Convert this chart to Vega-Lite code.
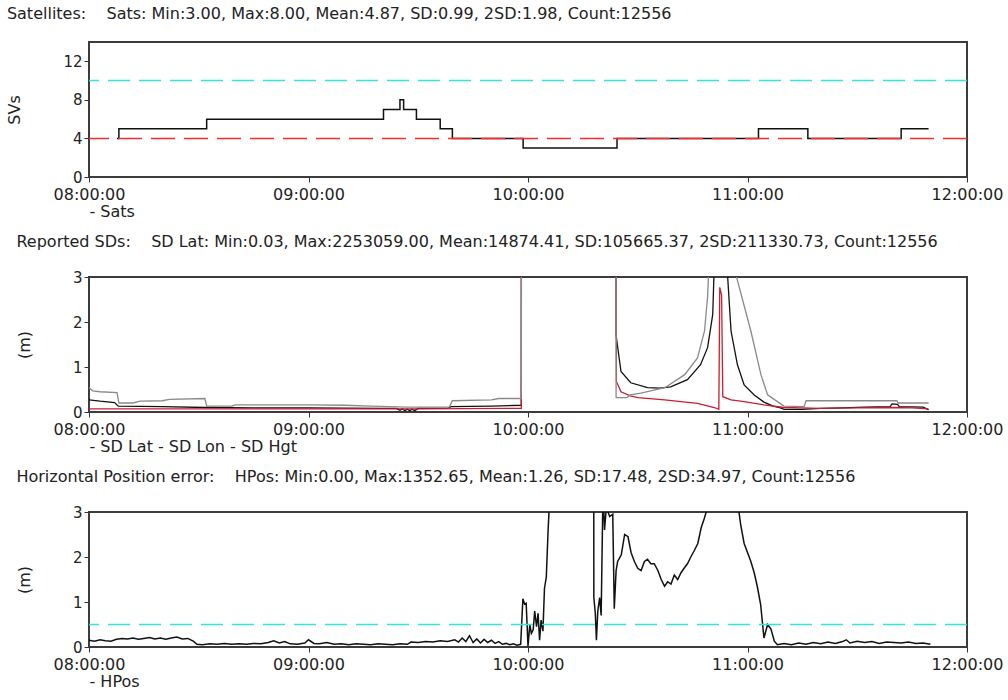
{
"$schema": "https://vega.github.io/schema/vega-lite/v6.json",
"spacing": 13,
"config": {
  "font": "DejaVu Sans",
  "view": {"stroke": "#3c3c3c", "strokeWidth": 2},
  "title": {"anchor": "start", "frame": "bounds", "fontSize": 16, "fontWeight": "normal", "color": "#222222", "offset": 20},
  "axis": {"grid": false, "domain": false, "labelFontSize": 16, "labelColor": "#222222", "titleFontSize": 16, "titleFontWeight": "normal", "titleColor": "#222222", "tickColor": "#333333"},
  "axisX": {"labelFlush": false, "labelOverlap": false, "labelPadding": 4, "titleAnchor": "start", "titleAlign": "left", "titlePadding": 1},
  "axisY": {"titlePadding": 40}
},
"vconcat": [
  {
    "width": 878, "height": 135,
    "title": "Satellites:\u00a0\u00a0\u00a0 Sats: Min:3.00, Max:8.00, Mean:4.87, SD:0.99, 2SD:1.98, Count:12556",
    "data": {"values": [
      {"t":"2000-01-01T08:07:40","n":4},{"t":"2000-01-01T08:08:10","n":5},{"t":"2000-01-01T08:32:10","n":6},{"t":"2000-01-01T09:20:30","n":7},{"t":"2000-01-01T09:25:00","n":8},{"t":"2000-01-01T09:26:00","n":7},{"t":"2000-01-01T09:29:30","n":6},{"t":"2000-01-01T09:36:00","n":5},{"t":"2000-01-01T09:39:20","n":4},{"t":"2000-01-01T09:58:40","n":3},{"t":"2000-01-01T10:24:20","n":4},{"t":"2000-01-01T11:03:00","n":5},{"t":"2000-01-01T11:16:30","n":4},{"t":"2000-01-01T11:42:00","n":5},{"t":"2000-01-01T11:49:30","n":5}
    ]},
    "layer": [
      {
        "mark": {"type": "line", "interpolate": "step-after", "strokeWidth": 1.5, "clip": true, "color": "#111111"},
        "encoding": {
          "x": {"field": "t", "type": "temporal", "scale": {"domain": [{"year": 2000, "month": 1, "date": 1, "hours": 8}, {"year": 2000, "month": 1, "date": 1, "hours": 12}]}, "axis": {"title": "- Sats", "tickCount": 4, "labelExpr": "(hours(datum.value) < 10 ? '0' : '') + hours(datum.value) + ':00:00'"}},
          "y": {"field": "n", "type": "quantitative", "scale": {"domain": [0, 14], "nice": false}, "axis": {"title": "SVs", "values": [0, 2, 4, 6, 8, 10, 12, 14], "labelFontSize": 15}}
        }
      },
      {
        "transform": [{"aggregate": [{"op": "count", "as": "c"}]}],
        "mark": {"type": "rule", "color": "#30e6d6", "strokeWidth": 1.5, "strokeDash": [22, 9]},
        "encoding": {"y": {"datum": 10}}
      },
      {
        "transform": [{"aggregate": [{"op": "count", "as": "c"}]}],
        "mark": {"type": "rule", "color": "#ff2a2a", "strokeWidth": 1.5, "strokeDash": [24, 9]},
        "encoding": {"y": {"datum": 4}}
      }
    ]
  },
  {
    "width": 878, "height": 135,
    "title": "Reported SDs:\u00a0\u00a0\u00a0 SD Lat: Min:0.03, Max:2253059.00, Mean:14874.41, SD:105665.37, 2SD:211330.73, Count:12556",
    "data": {"values": [
      {"s":"SD Lat","t":"2000-01-01T08:00:00","v":0.27},{"s":"SD Lat","t":"2000-01-01T08:03:00","v":0.24},{"s":"SD Lat","t":"2000-01-01T08:07:00","v":0.21},{"s":"SD Lat","t":"2000-01-01T08:08:00","v":0.13},{"s":"SD Lat","t":"2000-01-01T08:20:00","v":0.12},{"s":"SD Lat","t":"2000-01-01T08:32:00","v":0.1},{"s":"SD Lat","t":"2000-01-01T08:45:00","v":0.09},{"s":"SD Lat","t":"2000-01-01T09:00:00","v":0.09},{"s":"SD Lat","t":"2000-01-01T09:20:00","v":0.08},{"s":"SD Lat","t":"2000-01-01T09:24:00","v":0.08},{"s":"SD Lat","t":"2000-01-01T09:25:00","v":0.04},{"s":"SD Lat","t":"2000-01-01T09:25:40","v":0.07},{"s":"SD Lat","t":"2000-01-01T09:26:20","v":0.03},{"s":"SD Lat","t":"2000-01-01T09:27:00","v":0.06},{"s":"SD Lat","t":"2000-01-01T09:27:40","v":0.03},{"s":"SD Lat","t":"2000-01-01T09:28:20","v":0.06},{"s":"SD Lat","t":"2000-01-01T09:29:00","v":0.03},{"s":"SD Lat","t":"2000-01-01T09:30:00","v":0.08},{"s":"SD Lat","t":"2000-01-01T09:38:00","v":0.08},{"s":"SD Lat","t":"2000-01-01T09:39:00","v":0.12},{"s":"SD Lat","t":"2000-01-01T09:50:00","v":0.13},{"s":"SD Lat","t":"2000-01-01T09:58:10","v":0.15},{"s":"SD Lat","t":"2000-01-01T09:58:20","v":20},{"s":"SD Lat","t":"2000-01-01T10:24:00","v":20},{"s":"SD Lat","t":"2000-01-01T10:24:05","v":1.7},{"s":"SD Lat","t":"2000-01-01T10:25:25","v":0.9},{"s":"SD Lat","t":"2000-01-01T10:28:05","v":0.65},{"s":"SD Lat","t":"2000-01-01T10:32:40","v":0.54},{"s":"SD Lat","t":"2000-01-01T10:36:00","v":0.53},{"s":"SD Lat","t":"2000-01-01T10:39:00","v":0.56},{"s":"SD Lat","t":"2000-01-01T10:43:35","v":0.72},{"s":"SD Lat","t":"2000-01-01T10:47:10","v":1.05},{"s":"SD Lat","t":"2000-01-01T10:49:05","v":1.43},{"s":"SD Lat","t":"2000-01-01T10:50:30","v":2.17},{"s":"SD Lat","t":"2000-01-01T10:51:00","v":3.5},{"s":"SD Lat","t":"2000-01-01T10:52:30","v":20},{"s":"SD Lat","t":"2000-01-01T10:54:30","v":3.1},{"s":"SD Lat","t":"2000-01-01T10:55:30","v":1.8},{"s":"SD Lat","t":"2000-01-01T10:57:15","v":1.05},{"s":"SD Lat","t":"2000-01-01T10:59:05","v":0.6},{"s":"SD Lat","t":"2000-01-01T11:01:50","v":0.38},{"s":"SD Lat","t":"2000-01-01T11:04:30","v":0.22},{"s":"SD Lat","t":"2000-01-01T11:07:00","v":0.13},{"s":"SD Lat","t":"2000-01-01T11:09:00","v":0.09},{"s":"SD Lat","t":"2000-01-01T11:10:00","v":0.06},{"s":"SD Lat","t":"2000-01-01T11:15:00","v":0.06},{"s":"SD Lat","t":"2000-01-01T11:20:00","v":0.08},{"s":"SD Lat","t":"2000-01-01T11:26:00","v":0.09},{"s":"SD Lat","t":"2000-01-01T11:32:00","v":0.11},{"s":"SD Lat","t":"2000-01-01T11:39:00","v":0.12},{"s":"SD Lat","t":"2000-01-01T11:39:30","v":0.18},{"s":"SD Lat","t":"2000-01-01T11:41:00","v":0.17},{"s":"SD Lat","t":"2000-01-01T11:41:30","v":0.12},{"s":"SD Lat","t":"2000-01-01T11:48:00","v":0.11},{"s":"SD Lat","t":"2000-01-01T11:49:00","v":0.07},{"s":"SD Lat","t":"2000-01-01T11:49:30","v":0.05},
      {"s":"SD Lon","t":"2000-01-01T08:00:00","v":0.07},{"s":"SD Lon","t":"2000-01-01T08:30:00","v":0.07},{"s":"SD Lon","t":"2000-01-01T09:00:00","v":0.07},{"s":"SD Lon","t":"2000-01-01T09:30:00","v":0.07},{"s":"SD Lon","t":"2000-01-01T09:58:10","v":0.08},{"s":"SD Lon","t":"2000-01-01T09:58:20","v":20},{"s":"SD Lon","t":"2000-01-01T10:24:00","v":20},{"s":"SD Lon","t":"2000-01-01T10:24:10","v":0.68},{"s":"SD Lon","t":"2000-01-01T10:25:25","v":0.45},{"s":"SD Lon","t":"2000-01-01T10:28:00","v":0.36},{"s":"SD Lon","t":"2000-01-01T10:30:00","v":0.32},{"s":"SD Lon","t":"2000-01-01T10:37:20","v":0.27},{"s":"SD Lon","t":"2000-01-01T10:46:20","v":0.19},{"s":"SD Lon","t":"2000-01-01T10:50:55","v":0.1},{"s":"SD Lon","t":"2000-01-01T10:52:10","v":0.06},{"s":"SD Lon","t":"2000-01-01T10:52:25","v":2.77},{"s":"SD Lon","t":"2000-01-01T10:52:55","v":2.6},{"s":"SD Lon","t":"2000-01-01T10:53:15","v":0.34},{"s":"SD Lon","t":"2000-01-01T10:55:30","v":0.27},{"s":"SD Lon","t":"2000-01-01T10:59:05","v":0.23},{"s":"SD Lon","t":"2000-01-01T11:04:30","v":0.16},{"s":"SD Lon","t":"2000-01-01T11:10:00","v":0.1},{"s":"SD Lon","t":"2000-01-01T11:20:00","v":0.08},{"s":"SD Lon","t":"2000-01-01T11:30:00","v":0.09},{"s":"SD Lon","t":"2000-01-01T11:40:00","v":0.1},{"s":"SD Lon","t":"2000-01-01T11:45:00","v":0.09},{"s":"SD Lon","t":"2000-01-01T11:49:30","v":0.07},
      {"s":"SD Hgt","t":"2000-01-01T08:00:00","v":0.54},{"s":"SD Hgt","t":"2000-01-01T08:01:00","v":0.47},{"s":"SD Hgt","t":"2000-01-01T08:03:00","v":0.45},{"s":"SD Hgt","t":"2000-01-01T08:07:40","v":0.43},{"s":"SD Hgt","t":"2000-01-01T08:08:10","v":0.2},{"s":"SD Hgt","t":"2000-01-01T08:12:00","v":0.2},{"s":"SD Hgt","t":"2000-01-01T08:14:00","v":0.24},{"s":"SD Hgt","t":"2000-01-01T08:20:00","v":0.25},{"s":"SD Hgt","t":"2000-01-01T08:22:00","v":0.28},{"s":"SD Hgt","t":"2000-01-01T08:31:40","v":0.3},{"s":"SD Hgt","t":"2000-01-01T08:32:10","v":0.13},{"s":"SD Hgt","t":"2000-01-01T08:39:00","v":0.13},{"s":"SD Hgt","t":"2000-01-01T08:40:00","v":0.16},{"s":"SD Hgt","t":"2000-01-01T09:00:00","v":0.16},{"s":"SD Hgt","t":"2000-01-01T09:10:00","v":0.15},{"s":"SD Hgt","t":"2000-01-01T09:17:00","v":0.13},{"s":"SD Hgt","t":"2000-01-01T09:27:00","v":0.11},{"s":"SD Hgt","t":"2000-01-01T09:38:30","v":0.11},{"s":"SD Hgt","t":"2000-01-01T09:39:20","v":0.25},{"s":"SD Hgt","t":"2000-01-01T09:50:00","v":0.27},{"s":"SD Hgt","t":"2000-01-01T09:52:00","v":0.3},{"s":"SD Hgt","t":"2000-01-01T09:58:10","v":0.3},{"s":"SD Hgt","t":"2000-01-01T09:58:20","v":20},{"s":"SD Hgt","t":"2000-01-01T10:24:00","v":20},{"s":"SD Hgt","t":"2000-01-01T10:24:05","v":0.32},{"s":"SD Hgt","t":"2000-01-01T10:27:00","v":0.32},{"s":"SD Hgt","t":"2000-01-01T10:28:00","v":0.38},{"s":"SD Hgt","t":"2000-01-01T10:30:50","v":0.42},{"s":"SD Hgt","t":"2000-01-01T10:37:25","v":0.54},{"s":"SD Hgt","t":"2000-01-01T10:42:50","v":0.83},{"s":"SD Hgt","t":"2000-01-01T10:46:20","v":1.2},{"s":"SD Hgt","t":"2000-01-01T10:48:15","v":1.8},{"s":"SD Hgt","t":"2000-01-01T10:49:05","v":2.55},{"s":"SD Hgt","t":"2000-01-01T10:49:35","v":3.5},{"s":"SD Hgt","t":"2000-01-01T10:53:00","v":20},{"s":"SD Hgt","t":"2000-01-01T10:56:50","v":3.05},{"s":"SD Hgt","t":"2000-01-01T11:00:55","v":1.8},{"s":"SD Hgt","t":"2000-01-01T11:03:40","v":0.83},{"s":"SD Hgt","t":"2000-01-01T11:05:30","v":0.38},{"s":"SD Hgt","t":"2000-01-01T11:08:10","v":0.23},{"s":"SD Hgt","t":"2000-01-01T11:10:00","v":0.13},{"s":"SD Hgt","t":"2000-01-01T11:15:30","v":0.12},{"s":"SD Hgt","t":"2000-01-01T11:16:00","v":0.25},{"s":"SD Hgt","t":"2000-01-01T11:40:50","v":0.25},{"s":"SD Hgt","t":"2000-01-01T11:41:10","v":0.2},{"s":"SD Hgt","t":"2000-01-01T11:49:30","v":0.2}
    ]},
    "mark": {"type": "line", "strokeWidth": 1.3, "clip": true},
    "encoding": {
      "x": {"field": "t", "type": "temporal", "scale": {"domain": [{"year": 2000, "month": 1, "date": 1, "hours": 8}, {"year": 2000, "month": 1, "date": 1, "hours": 12}]}, "axis": {"title": "- SD Lat - SD Lon - SD Hgt", "tickCount": 4, "labelExpr": "(hours(datum.value) < 10 ? '0' : '') + hours(datum.value) + ':00:00'"}},
      "y": {"field": "v", "type": "quantitative", "scale": {"domain": [0, 3], "nice": false}, "axis": {"title": "(m)", "values": [0, 1, 2, 3], "labelFontSize": 15}},
      "color": {"field": "s", "type": "nominal", "scale": {"domain": ["SD Lat", "SD Lon", "SD Hgt"], "range": ["#111111", "#c81e32", "#8a8a8a"]}, "legend": null}
    }
  },
  {
    "width": 878, "height": 135,
    "title": "Horizontal Position error:\u00a0\u00a0\u00a0 HPos: Min:0.00, Max:1352.65, Mean:1.26, SD:17.48, 2SD:34.97, Count:12556",
    "data": {"values": [
      {"t":"2000-01-01T08:00:00","v":0.15},{"t":"2000-01-01T08:01:30","v":0.13},{"t":"2000-01-01T08:03:00","v":0.16},{"t":"2000-01-01T08:04:30","v":0.14},{"t":"2000-01-01T08:06:00","v":0.13},{"t":"2000-01-01T08:07:30","v":0.17},{"t":"2000-01-01T08:09:00","v":0.19},{"t":"2000-01-01T08:10:30","v":0.18},{"t":"2000-01-01T08:12:00","v":0.2},{"t":"2000-01-01T08:13:30","v":0.17},{"t":"2000-01-01T08:15:00","v":0.19},{"t":"2000-01-01T08:16:30","v":0.21},{"t":"2000-01-01T08:18:00","v":0.18},{"t":"2000-01-01T08:19:30","v":0.2},{"t":"2000-01-01T08:21:00","v":0.17},{"t":"2000-01-01T08:22:30","v":0.2},{"t":"2000-01-01T08:24:00","v":0.22},{"t":"2000-01-01T08:25:30","v":0.18},{"t":"2000-01-01T08:27:00","v":0.19},{"t":"2000-01-01T08:28:30","v":0.13},{"t":"2000-01-01T08:29:30","v":0.06},{"t":"2000-01-01T08:31:00","v":0.05},{"t":"2000-01-01T08:33:00","v":0.07},{"t":"2000-01-01T08:35:00","v":0.06},{"t":"2000-01-01T08:37:00","v":0.08},{"t":"2000-01-01T08:39:00","v":0.06},{"t":"2000-01-01T08:41:00","v":0.07},{"t":"2000-01-01T08:43:00","v":0.06},{"t":"2000-01-01T08:45:00","v":0.08},{"t":"2000-01-01T08:47:00","v":0.07},{"t":"2000-01-01T08:49:00","v":0.1},{"t":"2000-01-01T08:50:30","v":0.14},{"t":"2000-01-01T08:52:00","v":0.09},{"t":"2000-01-01T08:53:30","v":0.12},{"t":"2000-01-01T08:55:00","v":0.07},{"t":"2000-01-01T08:57:00","v":0.06},{"t":"2000-01-01T08:59:00","v":0.09},{"t":"2000-01-01T09:00:00","v":0.16},{"t":"2000-01-01T09:01:30","v":0.08},{"t":"2000-01-01T09:03:00","v":0.07},{"t":"2000-01-01T09:05:00","v":0.1},{"t":"2000-01-01T09:07:00","v":0.06},{"t":"2000-01-01T09:09:00","v":0.07},{"t":"2000-01-01T09:11:00","v":0.05},{"t":"2000-01-01T09:13:00","v":0.07},{"t":"2000-01-01T09:15:00","v":0.06},{"t":"2000-01-01T09:17:00","v":0.05},{"t":"2000-01-01T09:19:00","v":0.07},{"t":"2000-01-01T09:21:00","v":0.06},{"t":"2000-01-01T09:23:00","v":0.05},{"t":"2000-01-01T09:25:00","v":0.07},{"t":"2000-01-01T09:27:00","v":0.06},{"t":"2000-01-01T09:28:00","v":0.11},{"t":"2000-01-01T09:30:00","v":0.1},{"t":"2000-01-01T09:32:00","v":0.12},{"t":"2000-01-01T09:34:00","v":0.11},{"t":"2000-01-01T09:36:00","v":0.14},{"t":"2000-01-01T09:38:00","v":0.12},{"t":"2000-01-01T09:40:00","v":0.16},{"t":"2000-01-01T09:41:00","v":0.11},{"t":"2000-01-01T09:42:00","v":0.2},{"t":"2000-01-01T09:43:00","v":0.12},{"t":"2000-01-01T09:44:00","v":0.25},{"t":"2000-01-01T09:45:00","v":0.1},{"t":"2000-01-01T09:46:00","v":0.18},{"t":"2000-01-01T09:47:00","v":0.09},{"t":"2000-01-01T09:48:00","v":0.17},{"t":"2000-01-01T09:49:00","v":0.1},{"t":"2000-01-01T09:50:00","v":0.15},{"t":"2000-01-01T09:51:00","v":0.08},{"t":"2000-01-01T09:52:00","v":0.12},{"t":"2000-01-01T09:53:00","v":0.06},{"t":"2000-01-01T09:54:00","v":0.08},{"t":"2000-01-01T09:55:00","v":0.05},{"t":"2000-01-01T09:56:00","v":0.07},{"t":"2000-01-01T09:57:00","v":0.04},{"t":"2000-01-01T09:58:00","v":0.06},{"t":"2000-01-01T09:58:36","v":1.07},{"t":"2000-01-01T09:59:05","v":0.95},{"t":"2000-01-01T09:59:30","v":0.97},{"t":"2000-01-01T10:00:00","v":0.02},{"t":"2000-01-01T10:00:30","v":0.5},{"t":"2000-01-01T10:00:55","v":0.3},{"t":"2000-01-01T10:01:25","v":0.38},{"t":"2000-01-01T10:01:50","v":0.8},{"t":"2000-01-01T10:02:20","v":0.45},{"t":"2000-01-01T10:02:45","v":0.75},{"t":"2000-01-01T10:03:10","v":0.15},{"t":"2000-01-01T10:03:35","v":0.6},{"t":"2000-01-01T10:04:05","v":0.35},{"t":"2000-01-01T10:04:30","v":1.3},{"t":"2000-01-01T10:05:00","v":1.55},{"t":"2000-01-01T10:05:30","v":2.6},{"t":"2000-01-01T10:05:55","v":3.3},{"t":"2000-01-01T10:10:00","v":20},{"t":"2000-01-01T10:15:00","v":20},{"t":"2000-01-01T10:17:48","v":20},{"t":"2000-01-01T10:18:00","v":1.1},{"t":"2000-01-01T10:18:24","v":0.75},{"t":"2000-01-01T10:18:42","v":0.15},{"t":"2000-01-01T10:19:05","v":0.8},{"t":"2000-01-01T10:19:35","v":1.1},{"t":"2000-01-01T10:20:00","v":0.7},{"t":"2000-01-01T10:20:30","v":3.5},{"t":"2000-01-01T10:20:55","v":2.6},{"t":"2000-01-01T10:21:25","v":3.1},{"t":"2000-01-01T10:22:20","v":2.9},{"t":"2000-01-01T10:23:10","v":2.95},{"t":"2000-01-01T10:23:35","v":0.85},{"t":"2000-01-01T10:24:05","v":1.7},{"t":"2000-01-01T10:24:30","v":1.9},{"t":"2000-01-01T10:25:30","v":2.05},{"t":"2000-01-01T10:26:25","v":2.5},{"t":"2000-01-01T10:27:20","v":2.45},{"t":"2000-01-01T10:28:10","v":2.1},{"t":"2000-01-01T10:29:05","v":1.9},{"t":"2000-01-01T10:30:00","v":1.75},{"t":"2000-01-01T10:30:55","v":1.7},{"t":"2000-01-01T10:31:50","v":1.9},{"t":"2000-01-01T10:32:40","v":1.95},{"t":"2000-01-01T10:33:35","v":1.85},{"t":"2000-01-01T10:34:30","v":1.85},{"t":"2000-01-01T10:35:30","v":1.7},{"t":"2000-01-01T10:36:25","v":1.5},{"t":"2000-01-01T10:37:20","v":1.35},{"t":"2000-01-01T10:38:10","v":1.45},{"t":"2000-01-01T10:39:05","v":1.4},{"t":"2000-01-01T10:40:00","v":1.6},{"t":"2000-01-01T10:40:55","v":1.5},{"t":"2000-01-01T10:41:50","v":1.65},{"t":"2000-01-01T10:42:40","v":1.75},{"t":"2000-01-01T10:43:35","v":1.85},{"t":"2000-01-01T10:44:30","v":2.0},{"t":"2000-01-01T10:45:30","v":2.15},{"t":"2000-01-01T10:46:25","v":2.3},{"t":"2000-01-01T10:47:20","v":2.65},{"t":"2000-01-01T10:48:10","v":2.85},{"t":"2000-01-01T10:49:05","v":3.1},{"t":"2000-01-01T10:53:00","v":20},{"t":"2000-01-01T10:57:30","v":3.1},{"t":"2000-01-01T10:58:10","v":2.7},{"t":"2000-01-01T10:59:05","v":2.3},{"t":"2000-01-01T11:00:00","v":2.1},{"t":"2000-01-01T11:00:55","v":1.9},{"t":"2000-01-01T11:01:50","v":1.65},{"t":"2000-01-01T11:02:40","v":1.35},{"t":"2000-01-01T11:03:35","v":0.95},{"t":"2000-01-01T11:04:30","v":0.2},{"t":"2000-01-01T11:05:30","v":0.5},{"t":"2000-01-01T11:06:25","v":0.4},{"t":"2000-01-01T11:07:20","v":0.13},{"t":"2000-01-01T11:08:10","v":0.05},{"t":"2000-01-01T11:10:00","v":0.08},{"t":"2000-01-01T11:12:00","v":0.05},{"t":"2000-01-01T11:14:00","v":0.09},{"t":"2000-01-01T11:16:00","v":0.06},{"t":"2000-01-01T11:18:00","v":0.1},{"t":"2000-01-01T11:20:00","v":0.07},{"t":"2000-01-01T11:22:00","v":0.11},{"t":"2000-01-01T11:24:00","v":0.08},{"t":"2000-01-01T11:26:00","v":0.12},{"t":"2000-01-01T11:27:00","v":0.16},{"t":"2000-01-01T11:28:00","v":0.09},{"t":"2000-01-01T11:30:00","v":0.13},{"t":"2000-01-01T11:32:00","v":0.1},{"t":"2000-01-01T11:34:00","v":0.12},{"t":"2000-01-01T11:36:00","v":0.08},{"t":"2000-01-01T11:38:00","v":0.11},{"t":"2000-01-01T11:40:00","v":0.1},{"t":"2000-01-01T11:42:00","v":0.09},{"t":"2000-01-01T11:44:00","v":0.11},{"t":"2000-01-01T11:46:00","v":0.08},{"t":"2000-01-01T11:48:00","v":0.09},{"t":"2000-01-01T11:50:00","v":0.06}
    ]},
    "layer": [
      {
        "mark": {"type": "line", "strokeWidth": 1.5, "clip": true, "color": "#111111"},
        "encoding": {
          "x": {"field": "t", "type": "temporal", "scale": {"domain": [{"year": 2000, "month": 1, "date": 1, "hours": 8}, {"year": 2000, "month": 1, "date": 1, "hours": 12}]}, "axis": {"title": "- HPos", "tickCount": 4, "labelExpr": "(hours(datum.value) < 10 ? '0' : '') + hours(datum.value) + ':00:00'"}},
          "y": {"field": "v", "type": "quantitative", "scale": {"domain": [0, 3], "nice": false}, "axis": {"title": "(m)", "values": [0, 1, 2, 3], "labelFontSize": 15}}
        }
      },
      {
        "transform": [{"aggregate": [{"op": "count", "as": "c"}]}],
        "mark": {"type": "rule", "color": "#30e6d6", "strokeWidth": 1.5, "strokeDash": [22, 9]},
        "encoding": {"y": {"datum": 0.5}}
      }
    ]
  }
]
}
